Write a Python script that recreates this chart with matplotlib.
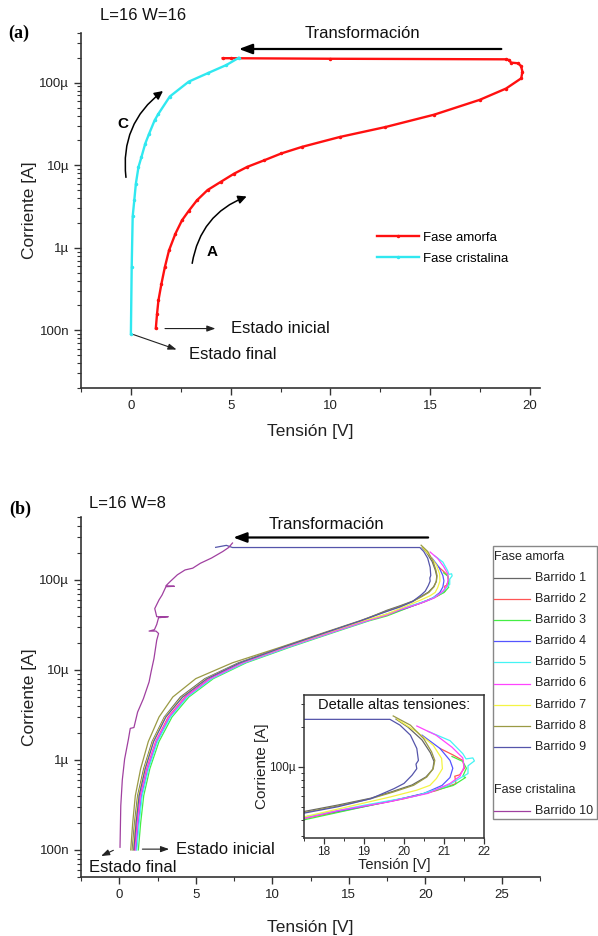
import numpy as np
import matplotlib
matplotlib.use('Agg')
import matplotlib.pyplot as plt
from matplotlib.ticker import FixedLocator, LogLocator, NullFormatter, FuncFormatter, MultipleLocator
from matplotlib.patches import FancyArrowPatch, Rectangle
from matplotlib.lines import Line2D

plt.rcParams['font.family'] = ['Liberation Sans', 'DejaVu Sans']

# ---------------- Panel (a) data ----------------
a_amorfa_v = [1.25, 1.31, 1.38, 1.53, 1.70, 1.91, 2.23, 2.56, 2.9, 3.31, 3.84, 4.5, 5.17, 5.83,
              6.69, 7.54, 8.58, 10.47, 12.75, 15.2, 17.48, 18.8, 19.56, 19.62, 19.55, 19.4, 19.05,
              18.95, 18.8, 10.0, 5.0, 4.6]
a_amorfa_i = [1.06e-7, 1.58e-7, 2.3e-7, 3.66e-7, 5.8e-7, 9.3e-7, 1.48e-6, 2.15e-6, 2.8e-6, 3.76e-6,
              5.0e-6, 6.28e-6, 7.9e-6, 9.55e-6, 1.15e-5, 1.39e-5, 1.67e-5, 2.2e-5, 2.9e-5, 4.1e-5,
              6.2e-5, 8.5e-5, 1.13e-4, 1.36e-4, 1.59e-4, 1.72e-4, 1.75e-4, 1.88e-4, 1.92e-4, 1.95e-4,
              1.98e-4, 1.98e-4]
a_crist_v = [5.4, 4.79, 3.84, 2.9, 1.95, 1.38, 1.19, 0.91, 0.72, 0.53, 0.38, 0.25, 0.17, 0.09,
             0.04, 0.0]
a_crist_i = [2.0e-4, 1.64e-4, 1.3e-4, 1.03e-4, 6.8e-5, 4.2e-5, 3.5e-5, 2.4e-5, 1.83e-5, 1.26e-5,
             9.5e-6, 6.0e-6, 3.76e-6, 2.4e-6, 5.8e-7, 9.1e-8]

# ---------------- Panel (b) data ----------------
b_levels = [1e-7, 2e-7, 4e-7, 8e-7, 1.6e-6, 3e-6, 5e-6, 8e-6, 1.2e-5, 1.8e-5, 2.6e-5, 3.5e-5]

b1_low = [0.85, 1.0, 1.2, 1.6, 2.15, 2.95, 4.0, 5.6, 7.8, 10.7, 13.5, 15.8]
b1_up_v = [17.5, 18.35, 19.17, 19.7, 20.2, 20.55, 20.72, 20.75, 20.66, 20.45, 20.1, 19.8]
b1_up_i = [4.6e-5, 5.15e-5, 5.8e-5, 6.5e-5, 7.3e-5, 8.4e-5, 9.6e-5, 1.1e-4, 1.28e-4, 1.6e-4, 2.0e-4, 2.3e-4]

b2_low = [1.0, 1.17, 1.38, 1.8, 2.38, 3.2, 4.3, 5.9, 8.1, 11.0, 13.8, 16.1]
b2_up_v = [17.5, 20.0, 20.8, 21.3, 21.27, 21.39, 21.51, 21.47, 21.23, 20.9]
b2_up_i = [4.07e-5, 5.75e-5, 6.61e-5, 7.48e-5, 8.51e-5, 8.71e-5, 9.77e-5, 1.12e-4, 1.23e-4, 1.38e-4]

b3_low = [1.25, 1.4, 1.6, 2.0, 2.6, 3.45, 4.55, 6.15, 8.3, 11.2, 14.0, 16.3]
b3_up_v = [17.5, 19.17, 20.4, 21.23, 21.54, 21.47, 21.56, 21.47, 21.2]
b3_up_i = [3.98e-5, 5.13e-5, 6.17e-5, 7.24e-5, 8.32e-5, 8.51e-5, 9.77e-5, 1.10e-4, 1.20e-4]

b4_low = [1.1, 1.25, 1.45, 1.87, 2.45, 3.3, 4.4, 6.0, 8.15, 11.05, 13.85, 16.15]
b4_up_v = [17.5, 18.8, 19.8, 20.5, 20.95, 21.15, 21.22, 21.15, 20.9, 20.45]
b4_up_i = [4.17e-5, 4.9e-5, 5.62e-5, 6.31e-5, 7.24e-5, 8.32e-5, 9.77e-5, 1.12e-4, 1.38e-4, 1.74e-4]

b5_low = [1.15, 1.3, 1.5, 1.92, 2.5, 3.35, 4.45, 6.05, 8.2, 11.1, 13.9, 16.2]
b5_up_v = [17.5, 19.0, 20.3, 21.1, 21.45, 21.6, 21.6, 21.76, 21.72, 21.55, 21.47, 21.15, 20.6]
b5_up_i = [4.17e-5, 5.13e-5, 6.03e-5, 7.24e-5, 8.39e-5, 8.91e-5, 1.02e-4, 1.11e-4, 1.17e-4, 1.15e-4,
           1.26e-4, 1.58e-4, 1.86e-4]

b6_low = [1.05, 1.2, 1.4, 1.83, 2.4, 3.25, 4.35, 5.95, 8.1, 11.0, 13.85, 16.15]
b6_up_v = [17.5, 18.35, 19.6, 20.6, 21.15, 21.4, 21.5, 21.47, 21.2, 20.8, 20.32]
b6_up_i = [4.07e-5, 4.68e-5, 5.43e-5, 6.31e-5, 7.5e-5, 8.51e-5, 1.0e-4, 1.17e-4, 1.41e-4, 1.74e-4, 2.04e-4]

b7_low = [0.9, 1.05, 1.25, 1.65, 2.2, 3.0, 4.1, 5.7, 7.9, 10.8, 13.6, 15.9]
b7_up_v = [17.5, 18.76, 19.66, 20.32, 20.65, 20.81, 20.96, 20.94, 20.73, 20.32, 19.83]
b7_up_i = [4.19e-5, 5.13e-5, 5.93e-5, 6.67e-5, 7.26e-5, 8.17e-5, 9.7e-5, 1.16e-4, 1.46e-4, 1.84e-4, 2.29e-4]

b8_low = [0.75, 0.88, 1.05, 1.4, 1.9, 2.6, 3.5, 5.0, 7.4, 10.6, 13.4, 15.7]
b8_up_v = [17.5, 18.35, 19.17, 19.74, 20.24, 20.57, 20.73, 20.77, 20.69, 20.49, 20.16, 19.73]
b8_up_i = [4.52e-5, 5.07e-5, 5.75e-5, 6.47e-5, 7.26e-5, 8.39e-5, 9.7e-5, 1.12e-4, 1.30e-4, 1.64e-4,
           2.07e-4, 2.43e-4]

b9_low = [0.95, 1.1, 1.3, 1.7, 2.25, 3.05, 4.15, 5.75, 7.9, 10.75, 13.5, 15.75]
b9_up_v = [17.5, 18.35, 19.17, 19.75, 20.0, 20.2, 20.32, 20.3, 20.36, 20.32, 20.16, 19.9, 19.65,
           7.4, 7.0, 6.3]
b9_up_i = [4.47e-5, 5.0e-5, 5.75e-5, 6.85e-5, 7.5e-5, 8.65e-5, 9.7e-5, 1.05e-4, 1.12e-4, 1.38e-4,
           1.74e-4, 2.07e-4, 2.29e-4, 2.29e-4, 2.42e-4, 2.3e-4]

b10_v = [0.05, 0.1, 0.2, 0.35, 0.6, 0.72, 0.96, 1.2, 1.58, 1.95, 2.08, 2.27, 2.45, 2.57, 2.4, 1.95,
         2.3, 2.45, 2.57, 3.2, 2.45, 2.32, 2.6, 2.8, 3.05, 3.6, 3.05, 3.33, 3.8, 4.3, 4.8, 5.3,
         6.03, 6.77, 7.15, 7.4]
b10_i = [1.07e-7, 3.1e-7, 6e-7, 1.02e-6, 1.7e-6, 2.24e-6, 2.29e-6, 3.4e-6, 4.8e-6, 7.35e-6, 9.5e-6,
         1.34e-5, 2.14e-5, 2.54e-5, 2.7e-5, 2.7e-5, 2.8e-5, 3.2e-5, 3.8e-5, 3.9e-5, 3.9e-5, 4.8e-5,
         6.0e-5, 6.8e-5, 8.4e-5, 8.5e-5, 8.6e-5, 9.6e-5, 1.14e-4, 1.29e-4, 1.35e-4, 1.53e-4,
         1.75e-4, 2.07e-4, 2.29e-4, 2.57e-4]

b_labels = ['Barrido 1', 'Barrido 2', 'Barrido 3', 'Barrido 4', 'Barrido 5', 'Barrido 6',
            'Barrido 7', 'Barrido 8', 'Barrido 9', 'Barrido 10']
b_colors = ['#666666', '#ff5555', '#44ee44', '#5555ff', '#44f4f4', '#ff44ff', '#f4f444',
            '#9a9a44', '#5555aa', '#a040a0']

ytick_vals = [1e-7, 1e-6, 1e-5, 1e-4]
ytick_text = ['100n', '1µ', '10µ', '100µ']

# ---------------- Figure ----------------
W, H = 598, 936
fig = plt.figure(figsize=(W / 100, H / 100), dpi=100)

def fx(px):
    return px / W

def fy(py):
    return 1 - py / H

ax_a = fig.add_axes([fx(81), fy(388), fx(540) - fx(81), fy(33) - fy(388)])
ax_b = fig.add_axes([fx(81), fy(877), fx(540) - fx(81), fy(517) - fy(877)])

spine_c = '#333333'

def ylab(v, p):
    k = int(np.argmin([abs(np.log10(t) - np.log10(v)) for t in ytick_vals]))
    return ytick_text[k]

def style_main(ax):
    ax.set_yscale('log')
    for s in ['top', 'right']:
        ax.spines[s].set_visible(False)
    for s in ['left', 'bottom']:
        ax.spines[s].set_color(spine_c)
        ax.spines[s].set_linewidth(1.2)
    ax.yaxis.set_major_locator(FixedLocator(ytick_vals))
    ax.yaxis.set_major_formatter(FuncFormatter(ylab))
    ax.yaxis.set_minor_locator(LogLocator(base=10, subs=np.arange(2, 10)))
    ax.yaxis.set_minor_formatter(NullFormatter())
    ax.xaxis.set_major_locator(MultipleLocator(5))
    ax.xaxis.set_minor_locator(MultipleLocator(2.5))
    ax.tick_params(which='major', length=5, width=1.0, direction='out', color=spine_c,
                   labelsize=9.5, labelcolor='#222222')
    ax.tick_params(which='minor', length=3, width=0.8, direction='out', color=spine_c)
    ax.set_xlabel('Tensión [V]', fontsize=12.5, color='#222222')
    ax.set_ylabel('Corriente [A]', fontsize=12.5, color='#222222')

# ---------- Panel (a) ----------
style_main(ax_a)
ax_a.set_xlim(-2.5, 20.5)
ax_a.set_ylim(2e-8, 4e-4)
ax_a.plot(a_amorfa_v, a_amorfa_i, color='#ff1010', lw=1.7, marker='.', ms=3, label='Fase amorfa')
ax_a.plot(a_crist_v, a_crist_i, color='#30e8f0', lw=1.7, marker='.', ms=3, label='Fase cristalina')
ax_a.xaxis.labelpad = 9
ax_a.yaxis.labelpad = 2

ax_a.legend(loc='upper left', bbox_to_anchor=(0.645, 0.44), frameon=False, fontsize=9.5,
            handlelength=3.2, handletextpad=0.3, labelspacing=0.65, borderpad=0, borderaxespad=0)

ax_a.annotate('', xy=(5.27, 2.56e-4), xytext=(18.7, 2.56e-4),
              arrowprops=dict(arrowstyle='-|>,head_length=0.8,head_width=0.3', color='black', lw=1.6))
ax_a.text(11.6, 3.98e-4, 'Transformación', fontsize=12, ha='center', va='center', color='#111111')

ax_a.add_patch(FancyArrowPatch((-0.23, 6.6e-6), (1.72, 8.3e-5), connectionstyle='arc3,rad=-0.3',
                               arrowstyle='-|>,head_length=5,head_width=2.5', color='black', lw=1.1))
ax_a.text(-0.38, 3.2e-5, 'C', fontsize=11, fontweight='bold', ha='center', va='center')
ax_a.add_patch(FancyArrowPatch((3.05, 6.0e-7), (5.93, 4.3e-6), connectionstyle='arc3,rad=-0.3',
                               arrowstyle='-|>,head_length=5,head_width=2.5', color='black', lw=1.1))
ax_a.text(4.09, 9.0e-7, 'A', fontsize=11, fontweight='bold', ha='center', va='center')

ax_a.annotate('', xy=(4.375, 1.05e-7), xytext=(1.57, 1.05e-7),
              arrowprops=dict(arrowstyle='-|>,head_length=0.5,head_width=0.18', color='#222222', lw=0.8))
ax_a.text(5.0, 1.05e-7, 'Estado inicial', fontsize=12, ha='left', va='center', color='#111111')
ax_a.annotate('', xy=(2.42, 5.7e-8), xytext=(0.0, 9.1e-8),
              arrowprops=dict(arrowstyle='-|>,head_length=0.5,head_width=0.18', color='#222222', lw=0.8))
ax_a.text(2.9, 5.1e-8, 'Estado final', fontsize=12, ha='left', va='center', color='#111111')

fig.text(fx(100), fy(16), 'L=16 W=16', fontsize=12, ha='left', va='center', color='#111111')
fig.text(fx(8), fy(33), '(a)', fontsize=13, fontweight='bold', ha='left', va='center',
         family=['Liberation Serif', 'DejaVu Serif'])

# ---------- Panel (b) ----------
style_main(ax_b)
ax_b.set_xlim(-2.5, 27.5)
ax_b.set_ylim(5e-8, 5e-4)
ax_b.xaxis.labelpad = 14
ax_b.yaxis.labelpad = 2

b_low = [b1_low, b2_low, b3_low, b4_low, b5_low, b6_low, b7_low, b8_low, b9_low]
b_up_v = [b1_up_v, b2_up_v, b3_up_v, b4_up_v, b5_up_v, b6_up_v, b7_up_v, b8_up_v, b9_up_v]
b_up_i = [b1_up_i, b2_up_i, b3_up_i, b4_up_i, b5_up_i, b6_up_i, b7_up_i, b8_up_i, b9_up_i]

ax_in = fig.add_axes([fx(304), fy(838), fx(484) - fx(304), fy(695) - fy(838)])

for k in range(9):
    v = b_low[k] + b_up_v[k]
    i = b_levels + b_up_i[k]
    ax_b.plot(v, i, color=b_colors[k], lw=0.9, zorder=3)
    ax_in.plot(v, i, color=b_colors[k], lw=0.9)
ax_b.plot(b10_v, b10_i, color=b_colors[9], lw=0.9, zorder=3)

ax_b.annotate('', xy=(7.27, 2.96e-4), xytext=(20.37, 2.96e-4),
              arrowprops=dict(arrowstyle='-|>,head_length=0.8,head_width=0.3', color='black', lw=1.6))
ax_b.text(13.57, 4.1e-4, 'Transformación', fontsize=12, ha='center', va='center', color='#111111')

ax_b.annotate('', xy=(3.44, 1.02e-7), xytext=(1.33, 1.02e-7),
              arrowprops=dict(arrowstyle='-|>,head_length=0.5,head_width=0.18', color='#222222', lw=0.8))
ax_b.text(3.68, 1.02e-7, 'Estado inicial', fontsize=12, ha='left', va='center', color='#111111')
ax_b.annotate('', xy=(-1.35, 8.3e-8), xytext=(-0.22, 1.02e-7),
              arrowprops=dict(arrowstyle='-|>,head_length=0.5,head_width=0.18', color='#222222', lw=0.8))
ax_b.text(-2.0, 6.3e-8, 'Estado final', fontsize=12, ha='left', va='center', color='#111111')

fig.text(fx(89), fy(503), 'L=16 W=8', fontsize=12, ha='left', va='center', color='#111111')
fig.text(fx(9), fy(509), '(b)', fontsize=13, fontweight='bold', ha='left', va='center',
         family=['Liberation Serif', 'DejaVu Serif'])

# ---------- Inset ----------
ax_in.set_yscale('log')
ax_in.set_xlim(17.5, 22)
ax_in.set_ylim(2.9e-5, 3.5e-4)
for s in ax_in.spines.values():
    s.set_color(spine_c)
    s.set_linewidth(1.1)
ax_in.yaxis.set_major_locator(FixedLocator([1e-4]))
ax_in.yaxis.set_major_formatter(FuncFormatter(lambda v, p: '100µ'))
ax_in.yaxis.set_minor_locator(LogLocator(base=10, subs=np.arange(2, 10)))
ax_in.yaxis.set_minor_formatter(NullFormatter())
ax_in.xaxis.set_major_locator(MultipleLocator(1))
ax_in.xaxis.set_minor_locator(MultipleLocator(0.5))
ax_in.tick_params(which='major', length=4, width=0.9, direction='out', color=spine_c,
                  labelsize=8.5, labelcolor='#222222', pad=2)
ax_in.tick_params(which='minor', length=2.5, width=0.7, direction='out', color=spine_c)
ax_in.set_xlabel('Tensión [V]', fontsize=10.5, labelpad=0, color='#222222')
ax_in.set_ylabel('Corriente [A]', fontsize=11, labelpad=0, color='#222222')
ax_in.text(0.5, 0.93, 'Detalle altas tensiones:', transform=ax_in.transAxes, fontsize=10.5,
           ha='center', va='center', color='#111111')

# ---------- Legend (b) ----------
fig.patches.append(Rectangle((fx(493), fy(819)), fx(597) - fx(493), fy(546) - fy(819),
                             transform=fig.transFigure, facecolor='white', edgecolor='#888888',
                             lw=1.0, zorder=5))
leg_fs = 9
fig.text(fx(494), fy(557), 'Fase amorfa', fontsize=leg_fs, ha='left', va='center', color='#222222', zorder=6)
for k in range(9):
    yy = fy(578 + 21.1 * k)
    fig.lines.append(Line2D([fx(494), fx(530)], [yy, yy], transform=fig.transFigure,
                            color=b_colors[k], lw=0.9, zorder=6))
    fig.text(fx(535), yy, b_labels[k], fontsize=leg_fs, ha='left', va='center', color='#222222', zorder=6)
fig.text(fx(494), fy(790), 'Fase cristalina', fontsize=leg_fs, ha='left', va='center', color='#222222', zorder=6)
yy = fy(811)
fig.lines.append(Line2D([fx(494), fx(530)], [yy, yy], transform=fig.transFigure,
                        color=b_colors[9], lw=0.9, zorder=6))
fig.text(fx(535), yy, b_labels[9], fontsize=leg_fs, ha='left', va='center', color='#222222', zorder=6)

fig.savefig('out.png', dpi=100)
